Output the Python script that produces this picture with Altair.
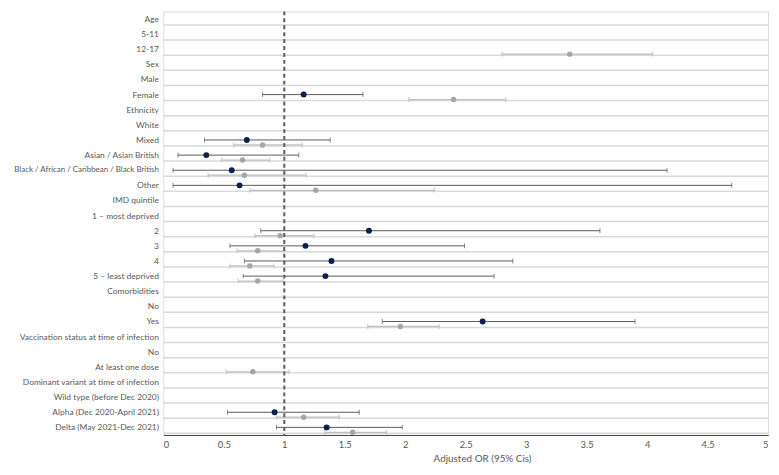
import altair as alt
import pandas as pd

categories = [
    "Age", "5-11", "12-17", "Sex", "Male", "Female", "Ethnicity", "White",
    "Mixed", "Asian / Asian British", "Black / African / Caribbean / Black British",
    "Other", "IMD quintile", "1 \u2013 most deprived", "2", "3", "4",
    "5 \u2013 least deprived", "Comorbidities", "No", "Yes",
    "Vaccination status at time of infection", "No", "At least one dose",
    "Dominant variant at time of infection", "Wild type (before Dec 2020)",
    "Alpha (Dec 2020-April 2021)", "Delta (May 2021-Dec 2021)",
]

# dark (navy) series: odds ratio, lower and upper 95% CI
dark_or = [None, None, None, None, None, 1.16, None, None, 0.69, 0.355, 0.565, 0.63,
           None, None, 1.70, 1.175, 1.39, 1.34, None, None, 2.64, None, None, None,
           None, None, 0.92, 1.35]
dark_lo = [None, None, None, None, None, 0.82, None, None, 0.34, 0.12, 0.08, 0.08,
           None, None, 0.805, 0.55, 0.67, 0.66, None, None, 1.81, None, None, None,
           None, None, 0.53, 0.935]
dark_hi = [None, None, None, None, None, 1.65, None, None, 1.38, 1.12, 4.165, 4.70,
           None, None, 3.61, 2.49, 2.89, 2.735, None, None, 3.90, None, None, None,
           None, None, 1.62, 1.975]

# grey series
grey_or = [None, None, 3.36, None, None, 2.40, None, None, 0.82, 0.655, 0.67, 1.26,
           None, None, 0.965, 0.78, 0.715, 0.78, None, None, 1.96, None, None, 0.74,
           None, None, 1.16, 1.565]
grey_lo = [None, None, 2.80, None, None, 2.03, None, None, 0.58, 0.48, 0.37, 0.715,
           None, None, 0.755, 0.61, 0.55, 0.62, None, None, 1.69, None, None, 0.52,
           None, None, 0.935, 1.335]
grey_hi = [None, None, 4.045, None, None, 2.83, None, None, 1.15, 0.88, 1.18, 2.24,
           None, None, 1.245, 0.995, 0.915, 0.99, None, None, 2.28, None, None, 1.04,
           None, None, 1.455, 1.845]

x_ticks = [0, 0.5, 1, 1.5, 2, 2.5, 3, 3.5, 4, 4.5, 5]


def series_frame(ors, los, his):
    rows = []
    for i, (o, l, h) in enumerate(zip(ors, los, his)):
        if o is not None:
            rows.append({"row": i, "or": o, "lo": l, "hi": h})
    return pd.DataFrame(rows)


dark_df = series_frame(dark_or, dark_lo, dark_hi)
grey_df = series_frame(grey_or, grey_lo, grey_hi)
rows_df = pd.DataFrame({"row": list(range(len(categories)))})

label_js = "[" + ",".join("'" + c.replace("'", "\\'") + "'" for c in categories) + "]"
longest = max(range(len(categories)), key=lambda i: len(categories[i]))

W, H = 611, 428
LFONT = "Lato"
TXT = "#595959"

y_enc = alt.Y(
    "row:O",
    scale=alt.Scale(domain=list(range(len(categories))), paddingInner=0, paddingOuter=0),
    axis=alt.Axis(
        title=None, labelExpr=label_js + "[datum.value]", ticks=False, domain=False,
        grid=False, labelPadding=5, labelColor=TXT,
        labelFontSize={"condition": {"test": f"datum.value == {longest}", "value": 8},
                       "value": 8.5},
        labelFont=LFONT, labelLimit=300,
    ),
)
x_scale = alt.Scale(domain=[0, 5], nice=False, zero=False)
x_axis = alt.Axis(
    values=x_ticks, format="~g", grid=False, ticks=False, domainColor="#404040",
    labelColor=TXT, labelFontSize=9.5, labelFont=LFONT, labelPadding=5,
    title="Adjusted OR (95% Cis)", titleColor=TXT, titleFontSize=10, titleFont=LFONT,
    titleFontWeight="normal", titlePadding=4, titleX=322,
)

grid = alt.Chart(rows_df).mark_rule(color="#d9d9d9", strokeWidth=1.5, yOffset=6).encode(
    y=y_enc, x=alt.value(0), x2=alt.value(W)
)

ref = alt.Chart(pd.DataFrame({"v": [1]})).mark_rule(
    color="#595959", strokeWidth=2, strokeDash=[4, 3]
).encode(x=alt.X("v:Q", scale=x_scale, axis=x_axis))


def series_layers(df, line_color, point_color, off, lw, psize):
    base = alt.Chart(df)
    rule = base.mark_rule(color=line_color, strokeWidth=lw, yOffset=off).encode(
        y=y_enc, x=alt.X("lo:Q", scale=x_scale, axis=x_axis), x2="hi:Q"
    )
    cap_lo = base.mark_tick(color=line_color, thickness=lw, size=5, yOffset=off).encode(
        y=y_enc, x=alt.X("lo:Q", scale=x_scale)
    )
    cap_hi = base.mark_tick(color=line_color, thickness=lw, size=5, yOffset=off).encode(
        y=y_enc, x=alt.X("hi:Q", scale=x_scale)
    )
    pt = base.mark_circle(color=point_color, size=psize, opacity=1, yOffset=off).encode(
        y=y_enc, x=alt.X("or:Q", scale=x_scale)
    )
    return [rule, cap_lo, cap_hi, pt]


grey_layers = series_layers(grey_df, "#bfbfbf", "#a6a6a6", 5, 1.3, 30)
dark_layers = series_layers(dark_df, "#595959", "#0c1f4d", 0, 1, 36)

chart = alt.layer(grid, *grey_layers, ref, *dark_layers).properties(
    width=W, height=H,
    autosize=alt.AutoSizeParams(type="none"),
    padding={"left": 157, "top": 1, "right": 3, "bottom": 33},
).configure_view(stroke="#404040", strokeWidth=1).configure(background="white")

chart.save("out.html", embed_options={"renderer": "svg", "actions": False})
